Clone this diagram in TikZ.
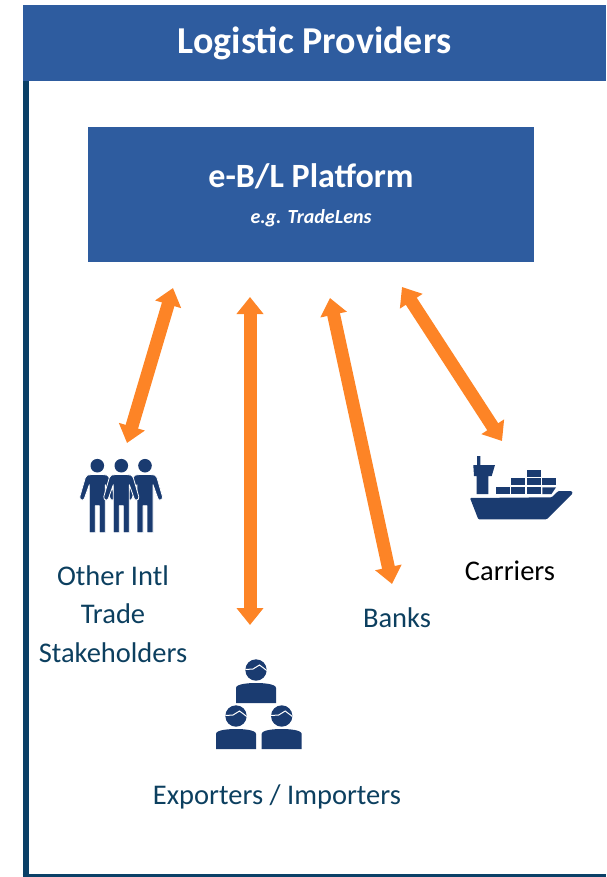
\documentclass[tikz,border=0pt]{standalone}
\usepackage{fontspec}
\setmainfont{Carlito}
\usetikzlibrary{arrows.meta, positioning}
\definecolor{headerblue}{HTML}{2E5C9F}
\definecolor{framedark}{HTML}{0A4067}
\definecolor{labelteal}{HTML}{0C3F5F}
\definecolor{iconblue}{HTML}{1A3B70}
\definecolor{linkorange}{HTML}{FD8426}
\tikzset{
    header/.style = {rectangle, minimum width=583pt, minimum height=76pt, inner sep=0pt, text=white, fill=headerblue, font=\bfseries\fontsize{38}{40}\selectfont},
    platform/.style = {rectangle, minimum width=446pt, minimum height=135pt, inner sep=0pt, align=center, text=white, fill=headerblue, font=\bfseries\fontsize{34}{38}\selectfont},
    caption/.style = {inner sep=0pt, align=center, text=labelteal, font=\fontsize{28.5}{38.5}\selectfont},
    link/.style = {line width=13pt, linkorange, {Triangle[length=17pt,width=26pt]}-{Triangle[length=17pt,width=26pt]}},
    person/.pic = {
        \fill (0,0) circle (6.8);
        \filldraw[draw=white, line width=0.8pt, line join=round] (-5,8.7) -- (-10,9.5) -- (-12,12) -- (-17.5,31) -- (-17,33.5) -- (-14.5,34.5) -- (-13,33) -- (-8,19) -- (-8,67) -- (-2,67) -- (-2,40) -- (2,40) -- (2,67) -- (8,67) -- (8,19) -- (13,33) -- (14.5,34.5) -- (17,33.5) -- (17.5,31) -- (12,12) -- (10,9.5) -- (5,8.7) -- cycle;
    },
    member/.pic = {
        \fill (0,0) circle (10.7);
        \draw[white, line width=1pt] (-10.7,-0.5) -- (-3,-1) -- (3.5,-5) -- (10.7,0.5);
        \fill (-20,33) -- (-20,18) .. controls (-20,14) and (-8,13) .. (0,13) .. controls (8,13) and (20,14) .. (20,18) -- (20,33) -- cycle;
    },
    ship/.pic = {
        % hull
        \fill[rounded corners=1pt] (470,498) -- (551.7,497.3) -- (558.3,491) -- (571.7,491) -- (572.7,493.3) -- (546.7,519.3) -- (478.3,519.3) -- cycle;
        % bridge and mast
        \fill (477,456) -- (480.3,456) -- (480.3,465) -- (495,465) -- (491.7,476) -- (488.3,476) -- (488.3,494) -- (476.7,494) -- (476.7,476) -- (474,476) -- (473.3,465) -- (477,465) -- cycle;
        % containers
        \fill (527,470) rectangle (541,476.7);
        \foreach \x in {511,527,542.3} {
            \fill (\x,478) rectangle ++(14,7);
        }
        \foreach \x in {495.7,511,527} {
            \fill (\x,487.3) rectangle ++(14,6.7);
        }
        \fill (542.3,487.3) -- (556,487.3) -- (551.5,494) -- (542.3,494) -- cycle;
    }
}

\begin{document}
\begin{tikzpicture}[x=1pt, y=-1pt]
\useasboundingbox (0,0) rectangle (606,877);

% Frame
\coordinate (frametop) at (25.7,81);
\coordinate (framecorner) at (25.7,875.5);
\coordinate (frameend) at (606,875.5);
\draw [framedark, line width=6pt] (frametop) -- (framecorner);
\draw [framedark, line width=3pt] ([xshift=-3pt]framecorner) -- (frameend);

% Boxes
\node (title) [header] at (314.5,43) {Logistic Providers};
\node (box) [platform, below=46pt of title, xshift=-3.5pt] {e-B/L Platform\\[-2pt]{\itshape\fontsize{20}{22}\selectfont e.g. TradeLens}};

% Captions
\node (stakeholders) [caption] at (113,614) {Other Intl\\Trade\\Stakeholders};
\node (exporters) [caption] at (277,797) {Exporters / Importers};
\node (banks) [caption] at (397,618) {Banks};
\node (carriers) [caption, text=black] at (510,571) {Carriers};

% Icons
\begin{scope}[iconblue]
\pic at (97.3,465.7) {person};
\pic at (145,465.7) {person};
\pic at (121.3,465.7) {person};
\pic at (256,670) {member};
\pic at (236,716) {member};
\pic at (281.7,716) {member};
\pic {ship};
\end{scope}

% Link ends
\coordinate (stakeholdersA) at (173,288);
\coordinate (stakeholdersB) at (127,443);
\coordinate (exportersA) at (250,297);
\coordinate (exportersB) at (250,625);
\coordinate (banksA) at (330,298);
\coordinate (banksB) at (392,584);
\coordinate (carriersA) at (402,287);
\coordinate (carriersB) at (502,441);

% Links
\draw [link] (stakeholdersA) -- (stakeholdersB);
\draw [link] (exportersA) -- (exportersB);
\draw [link] (banksA) -- (banksB);
\draw [link] (carriersA) -- (carriersB);

\end{tikzpicture}
\end{document}
